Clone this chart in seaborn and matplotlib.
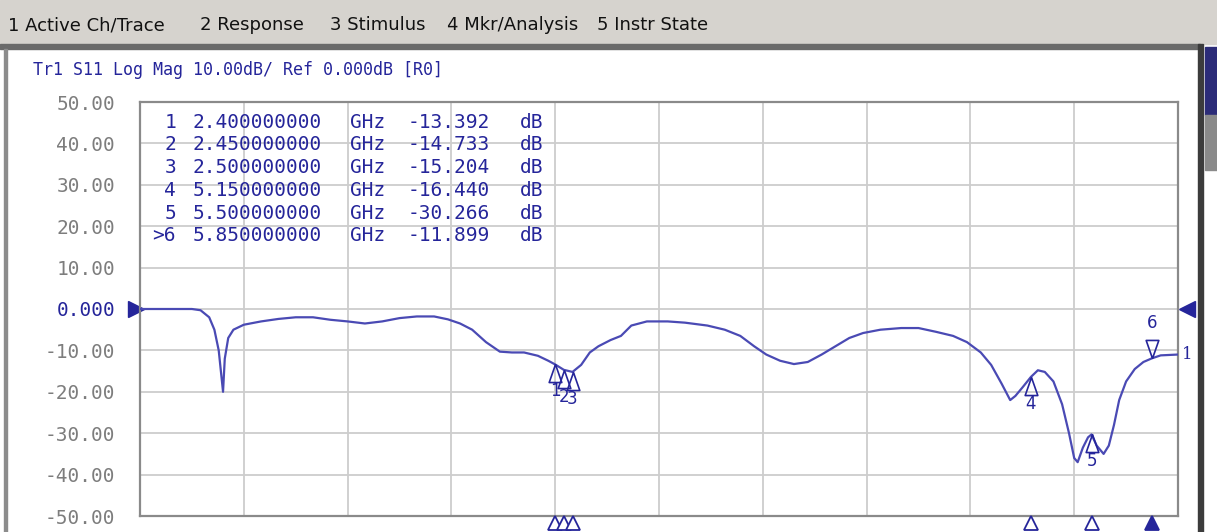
import numpy as np
import pandas as pd
import matplotlib
matplotlib.use("Agg")
import matplotlib.pyplot as plt
import matplotlib.transforms as mtransforms
from matplotlib.patches import Rectangle
import seaborn as sns

W, H = 1217, 532

# trace data (GHz, dB)
FREQ_GHZ = [
    0.00, 0.30, 0.35, 0.40, 0.43, 0.455, 0.47, 0.48, 0.49, 0.51, 0.54, 0.60,
    0.70, 0.80, 0.90, 1.00, 1.10, 1.20, 1.30, 1.40, 1.50, 1.60, 1.70, 1.78,
    1.85, 1.92, 2.00, 2.08, 2.15, 2.22, 2.30, 2.36, 2.40, 2.45, 2.50, 2.55,
    2.60, 2.65, 2.72, 2.78, 2.84, 2.93, 3.05, 3.15, 3.28, 3.38, 3.47, 3.55,
    3.62, 3.70, 3.78, 3.86, 3.94, 4.02, 4.10, 4.18, 4.28, 4.40, 4.50, 4.60,
    4.70, 4.78, 4.86, 4.92, 4.98, 5.03, 5.06, 5.10, 5.15, 5.19, 5.23, 5.28,
    5.33, 5.37, 5.40, 5.42, 5.45, 5.48, 5.50, 5.53, 5.57, 5.60, 5.63, 5.66,
    5.70, 5.75, 5.80, 5.85, 5.90, 6.00,
]
S11_DB = [
    0.0, 0.0, -0.3, -2.0, -5.0, -10.0, -16.0, -20.0, -12.0, -7.0, -5.0, -3.8,
    -3.0, -2.4, -2.0, -2.0, -2.6, -3.0, -3.5, -3.0, -2.2, -1.8, -1.8, -2.5,
    -3.5, -5.0, -8.0, -10.3, -10.5, -10.5, -11.3, -12.5, -13.4, -14.7, -15.2, -13.5,
    -10.5, -9.0, -7.5, -6.5, -4.0, -3.0, -3.0, -3.3, -4.0, -5.0, -6.5, -9.0,
    -11.0, -12.5, -13.3, -12.8, -11.0, -9.0, -7.0, -5.8, -5.0, -4.6, -4.6, -5.5,
    -6.5, -8.0, -10.5, -13.5, -18.0, -22.0, -21.0, -19.0, -16.4, -14.8, -15.2, -17.5,
    -23.0, -30.0, -36.0, -37.0, -33.5, -31.0, -30.3, -33.0, -35.0, -33.0, -28.0, -22.0,
    -17.5, -14.5, -12.8, -11.9, -11.2, -11.0,
]

MARKER_IDS = ["1", "2", "3", "4", "5", ">6"]
MARKER_GHZ = [2.40, 2.45, 2.50, 5.15, 5.50, 5.85]
MARKER_DB = [-13.392, -14.733, -15.204, -16.440, -30.266, -11.899]

Y_TICKS = [50, 40, 30, 20, 10, 0, -10, -20, -30, -40, -50]
Y_LABELS = ["50.00", "40.00", "30.00", "20.00", "10.00", "0.000",
            "-10.00", "-20.00", "-30.00", "-40.00", "-50.00"]

MENU_ITEMS = ["1 Active Ch/Trace", "2 Response", "3 Stimulus", "4 Mkr/Analysis", "5 Instr State"]
MENU_X = [8, 200, 330, 447, 597]
HEADER = "Tr1 S11 Log Mag 10.00dB/ Ref 0.000dB [R0]"

NAVY = "#25259a"
TRACE = "#4a4ab4"
GRID = "#cdcdcd"
MONO = ["DejaVu Sans Mono"]


def px(x, y):
    return x / W, 1 - y / H


sns.set_theme(style="white")
plt.rcParams["font.family"] = ["DejaVu Sans"]

fig = plt.figure(figsize=(W / 100, H / 100), dpi=100)
fig.patch.set_facecolor("white")

# window chrome: menu bar, panel frame, scroll strip
fig.patches.append(Rectangle(px(0, 44), 1, 44 / H, transform=fig.transFigure,
                             color="#d6d3ce", zorder=0))
fig.patches.append(Rectangle(px(0, 49), 1200 / W, 5 / H, transform=fig.transFigure,
                             color="#6a6a6a", zorder=0))
fig.patches.append(Rectangle(px(4, 532), 3 / W, 483 / H, transform=fig.transFigure,
                             color="#8c8c8c", zorder=0))
fig.patches.append(Rectangle(px(1198, 532), 5 / W, 488 / H, transform=fig.transFigure,
                             color="#3c3c3c", zorder=0))
fig.patches.append(Rectangle(px(1205, 115), 12 / W, 68 / H, transform=fig.transFigure,
                             color="#2c2c78", zorder=0))
fig.patches.append(Rectangle(px(1205, 170), 12 / W, 55 / H, transform=fig.transFigure,
                             color="#8a8a8a", zorder=0))

for label, x in zip(MENU_ITEMS, MENU_X):
    fig.text(*px(x, 25), label, fontsize=13, color="#111111", va="center", ha="left")

fig.text(*px(33, 70), HEADER, fontsize=12, color=NAVY, family=MONO, va="center", ha="left")

# plot area
left, right, top, bottom = 140, 1178, 102, 516
ax = fig.add_axes([left / W, 1 - bottom / H, (right - left) / W, (bottom - top) / H])

df = pd.DataFrame({"freq": FREQ_GHZ, "s11": S11_DB})
sns.lineplot(data=df, x="freq", y="s11", ax=ax, color=TRACE, linewidth=1.6, zorder=3)

ax.set_xlim(0, 6)
ax.set_ylim(-50, 50)
ax.set_xticks(np.linspace(0, 6, 11))
ax.set_xticklabels([])
ax.set_yticks(Y_TICKS)
ax.set_yticklabels(Y_LABELS, family=MONO, fontsize=14)
for lab in ax.get_yticklabels():
    lab.set_color(NAVY if lab.get_text() == "0.000" else "#7d7d7d")
ax.tick_params(length=0, pad=18)
ax.set_xlabel("")
ax.set_ylabel("")
ax.grid(True, color=GRID, linewidth=1.3)
for sp in ax.spines.values():
    sp.set_color("#8a8a8a")
    sp.set_linewidth(1.6)

# marker readout table
for i, (mid, f, v) in enumerate(zip(MARKER_IDS, MARKER_GHZ, MARKER_DB)):
    y = 122 + i * 22.8
    fig.text(*px(176, y), mid, fontsize=14, color=NAVY, family=MONO, ha="right", va="center")
    fig.text(*px(193, y), f"{f:.9f}", fontsize=14, color=NAVY, family=MONO, va="center")
    fig.text(*px(350, y), "GHz", fontsize=14, color=NAVY, family=MONO, va="center")
    fig.text(*px(408, y), f"{v:.3f}", fontsize=14, color=NAVY, family=MONO, va="center")
    fig.text(*px(520, y), "dB", fontsize=14, color=NAVY, family=MONO, va="center")

# marker symbols on the trace: apex on the point
up_tri = [(0, 0), (-0.35, -1.0), (0.35, -1.0), (0, 0)]
down_tri = [(0, 0), (-0.35, 1.0), (0.35, 1.0), (0, 0)]
for mid, f, v in zip(MARKER_IDS, MARKER_GHZ, MARKER_DB):
    num = mid.lstrip(">")
    if mid.startswith(">"):
        ax.plot([f], [v], marker=down_tri, markersize=26, markerfacecolor="none",
                markeredgecolor=NAVY, markeredgewidth=1.2, zorder=4)
        ax.annotate(num, (f, v), xytext=(0, 19), textcoords="offset points",
                    ha="center", va="bottom", color=NAVY, fontsize=12)
    else:
        ax.plot([f], [v], marker=up_tri, markersize=26, markerfacecolor="none",
                markeredgecolor=NAVY, markeredgewidth=1.2, zorder=4)
        ax.annotate(num, (f, v), xytext=(0, -13), textcoords="offset points",
                    ha="center", va="top", color=NAVY, fontsize=12)

# stimulus markers under the x axis
trans = mtransforms.blended_transform_factory(ax.transData, ax.transAxes)
for mid, f in zip(MARKER_IDS, MARKER_GHZ):
    filled = mid.startswith(">")
    ax.plot([f], [-0.018], marker="^", markersize=10, transform=trans, clip_on=False,
            markerfacecolor=NAVY if filled else "white", markeredgecolor=NAVY,
            markeredgewidth=1.3, zorder=5)

# reference level arrows and trace number
trans_y = mtransforms.blended_transform_factory(ax.transAxes, ax.transData)
ax.plot([-0.004], [0], marker=">", markersize=11, color=NAVY, transform=trans_y, clip_on=False)
ax.plot([1.009], [0], marker="<", markersize=11, color=NAVY, transform=trans_y, clip_on=False)
ax.text(1.004, S11_DB[-1], "1", transform=trans_y, color=NAVY, fontsize=12,
        ha="left", va="center", family=["DejaVu Serif"])

fig.savefig("out.png", dpi=100)
